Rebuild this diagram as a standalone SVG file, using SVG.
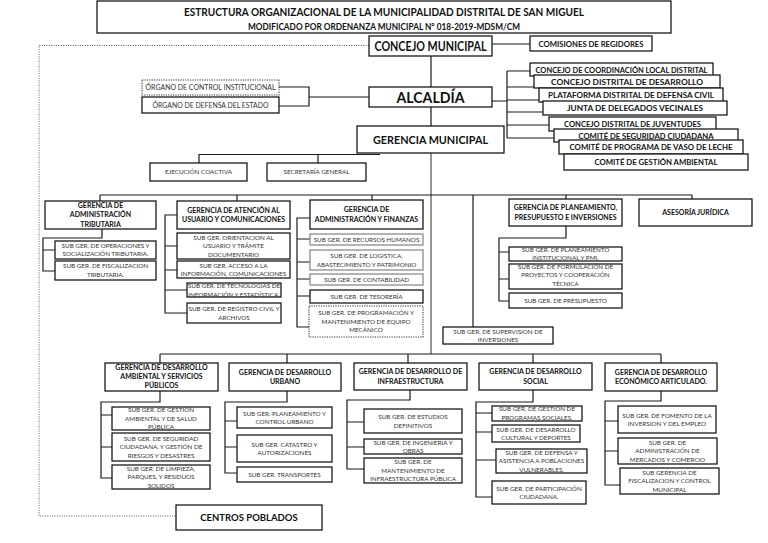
<svg xmlns="http://www.w3.org/2000/svg" width="768" height="543" viewBox="0 0 768 543">
<style>
.b{fill:#fff;stroke:#1a1a1a;stroke-width:1.3}
.bg{fill:#fff;stroke:#8c8c8c;stroke-width:1.3}
.bd{fill:#fff;stroke:#333;stroke-width:1.1;stroke-dasharray:1.2 1.2}
.c{fill:none;stroke:#1a1a1a;stroke-width:1.2}
.cg{fill:none;stroke:#8a8a8a;stroke-width:1.8}
.dot{fill:none;stroke:#555;stroke-width:1;stroke-dasharray:1 1.4}
text{font-family:Lato,"Liberation Sans",sans-serif;text-anchor:middle;fill:#111}
.h{font-weight:bold;font-size:7px}
.s{font-size:6.3px;fill:#333}
.r{font-weight:bold;font-size:7.5px}
</style>
<g id="connectors">
<path class="c" d="M492 44H530M431 56V87M431 107V126"/>
<path class="cg" d="M369 97H309"/>
<path class="c" d="M279 87H309V106H279"/>
<path class="c" d="M492 101H507M507 71V138M507 71H540M507 87H540M507 100H545M507 112H550M507 125H555M507 138H560"/>
<path class="c" d="M199 163V154.5H380M318 154.5V163"/>
<path class="cg" d="M431 153V354"/>
<path class="c" d="M100 195H692M100 195V201M237 195V201M372 195V200M473 195V327M566 195V199M692 195V199"/>
<path class="c" d="M102 229V238H43V271H55M43 250H55"/>
<path class="c" d="M177 215H165V313H187M165 246H177M165 270H177M165 290H187"/>
<path class="c" d="M310 218H297V327H309M297 239H310M297 262H310M297 279H310M297 296H310"/>
<path class="c" d="M566 226V238H499V301H509M499 252H509M499 279H509"/>
<path class="c" d="M160 354H661M160 354V363M287 354V363M408 354V363M533 354V363M661 354V363"/>
<path class="c" d="M160 391V402H101V478H112M101 415H112M101 447H112"/>
<path class="c" d="M287 391V402H225V473H237M225 421H237M225 447H237"/>
<path class="c" d="M410 390V400H347V469H364M347 422H364M347 447H364"/>
<path class="c" d="M533 390V402H476V497H492M476 413H492M476 432H492M476 460H496"/>
<path class="c" d="M661 391V401H605V485H620M605 421H618M605 451H618"/>
<path class="dot" d="M369 45.5H39V516H176"/>
</g>
<g id="title"><rect class="b" x="97" y="1" width="574" height="32"/>
<text x="384" y="16" style="font-weight:bold;font-size:11.5px" textLength="400" lengthAdjust="spacingAndGlyphs">ESTRUCTURA ORGANIZACIONAL DE LA MUNICIPALIDAD DISTRITAL DE SAN MIGUEL</text>
<text x="384" y="30" style="font-weight:bold;font-size:9px" textLength="272" lengthAdjust="spacingAndGlyphs">MODIFICADO POR ORDENANZA MUNICIPAL N° 018-2019-MDSM/CM</text></g>
<g id="concejo"><rect class="b" x="369" y="36" width="123" height="20"/><text x="430.5" y="50.5" style="font-weight:bold;font-size:12.5px" textLength="112" lengthAdjust="spacingAndGlyphs">CONCEJO MUNICIPAL</text></g>
<g id="comisiones"><rect class="b" x="530" y="36" width="122" height="15"/><text class="r" x="591" y="46.5" textLength="105" lengthAdjust="spacingAndGlyphs">COMISIONES DE REGIDORES</text></g>
<g id="alcaldia"><rect class="b" x="369" y="87" width="123" height="20"/><text x="430.5" y="103" style="font-weight:bold;font-size:16px" textLength="68" lengthAdjust="spacingAndGlyphs">ALCALDÍA</text></g>
<g id="gerencia-municipal"><rect class="b" x="357" y="126" width="147" height="27"/><text x="430.5" y="144" style="font-weight:bold;font-size:11.5px" textLength="115" lengthAdjust="spacingAndGlyphs">GERENCIA MUNICIPAL</text></g>
<g id="oci"><rect class="bd" x="142" y="80" width="137" height="15"/><text class="s" x="210.5" y="90" style="font-size:7px" textLength="130" lengthAdjust="spacingAndGlyphs">ÓRGANO DE CONTROL INSTITUCIONAL</text></g>
<g id="ode"><rect class="b" x="142" y="97" width="137" height="16"/><text class="s" x="210.5" y="107.5" style="font-size:7px" textLength="116" lengthAdjust="spacingAndGlyphs">ÓRGANO DE DEFENSA DEL ESTADO</text></g>
<g id="ejecucion"><rect class="b" x="150" y="163" width="97" height="18"/><text class="s" x="198.5" y="174.3">EJECUCIÓN COACTIVA</text></g>
<g id="secretaria"><rect class="b" x="267" y="163" width="99" height="18"/><text class="s" x="316.5" y="174.3">SECRETARÍA GENERAL</text></g>
<g id="ccld"><rect class="b" x="530" y="63" width="183" height="13"/><text class="r" x="621.5" y="72.5" textLength="172" lengthAdjust="spacingAndGlyphs">CONCEJO DE COORDINACIÓN LOCAL DISTRITAL</text></g>
<g id="cdd"><rect class="b" x="534" y="75" width="186" height="13"/><text class="r" x="627" y="84.7" textLength="152" lengthAdjust="spacingAndGlyphs">CONCEJO DISTRITAL DE DESARROLLO</text></g>
<g id="pddc"><rect class="b" x="539" y="88" width="184" height="14"/><text class="r" x="631" y="97.8" textLength="166" lengthAdjust="spacingAndGlyphs">PLATAFORMA DISTRITAL DE DEFENSA CIVIL</text></g>
<g id="jdv"><rect class="b" x="543" y="101" width="184" height="14"/><text class="r" x="635" y="110.8" textLength="136" lengthAdjust="spacingAndGlyphs">JUNTA DE DELEGADOS VECINALES</text></g>
<g id="cdj"><rect class="b" x="549" y="117" width="167" height="14"/><text class="r" x="632.5" y="126.8" textLength="137" lengthAdjust="spacingAndGlyphs">CONCEJO DISTRITAL DE JUVENTUDES</text></g>
<g id="csc"><rect class="b" x="554" y="129" width="184" height="13"/><text class="r" x="646" y="138.6" textLength="135" lengthAdjust="spacingAndGlyphs">COMITÉ DE SEGURIDAD CIUDADANA</text></g>
<g id="cpvl"><rect class="b" x="559" y="140" width="184" height="14"/><text class="r" x="651" y="149.8" textLength="163" lengthAdjust="spacingAndGlyphs">COMITÉ DE PROGRAMA DE VASO DE LECHE</text></g>
<g id="cga"><rect class="b" x="564" y="154" width="184" height="16"/><text class="r" x="656" y="164.8" textLength="123" lengthAdjust="spacingAndGlyphs">COMITÉ DE GESTIÓN AMBIENTAL</text></g>
<g id="g-adm-trib"><rect class="b" x="45" y="201" width="111" height="28"/><text class="h" x="100.5" y="207.8">GERENCIA DE<tspan x="100.5" dy="9.5">ADMINISTRACIÓN</tspan><tspan x="100.5" dy="9.5">TRIBUTARIA</tspan></text></g>
<g id="sg-operaciones"><rect class="b" x="55" y="241" width="101" height="18"/><text class="s" x="105.5" y="247.8">SUB GER. DE OPERACIONES Y<tspan x="105.5" dy="8.5">SOCIALIZACIÓN TRIBUTARIA.</tspan></text></g>
<g id="sg-fiscalizacion-trib"><rect class="b" x="55" y="261" width="101" height="19"/><text class="s" x="105.5" y="268">SUB GER. DE FISCALIZACION<tspan x="105.5" dy="8.5">TRIBUTARIA.</tspan></text></g>
<g id="g-atencion"><rect class="b" x="177" y="201" width="113" height="28"/><text class="h" x="233.5" y="212.7">GERENCIA DE ATENCIÓN AL<tspan x="233.5" dy="9.5">USUARIO Y COMUNICACIONES</tspan></text></g>
<g id="sg-orientacion"><rect class="b" x="177" y="233" width="113" height="26"/><text class="s" x="233.5" y="239.7">SUB GER. ORIENTACION AL<tspan x="233.5" dy="8.5">USUARIO Y TRÁMITE</tspan><tspan x="233.5" dy="8.5">DOCUMENTARIO</tspan></text></g>
<g id="sg-acceso"><rect class="b" x="177" y="261" width="113" height="17"/><text class="s" x="233.5" y="267.5">SUB GER. ACCESO A LA<tspan x="233.5" dy="8.5">INFORMACIÓN, COMUNICACIONES</tspan></text></g>
<g id="sg-tecnologias"><rect class="b" x="187" y="283" width="94" height="14"/><text class="s" x="234" y="288.3">SUB GER. DE TECNOLOGIAS DE<tspan x="234" dy="8.2">INFORMACIÓN Y ESTADÍSTICA.</tspan></text></g>
<g id="sg-registro"><rect class="b" x="187" y="303" width="94" height="20"/><text class="s" x="234" y="311">SUB GER. DE REGISTRO CIVIL Y<tspan x="234" dy="8.5">ARCHIVOS</tspan></text></g>
<g id="g-adm-fin"><rect class="b" x="310" y="200" width="113" height="29"/><text class="h" x="366.5" y="212.2">GERENCIA DE<tspan x="366.5" dy="9.5">ADMINISTRACIÓN Y FINANZAS</tspan></text></g>
<g id="sg-rrhh"><rect class="bg" x="310" y="234" width="113" height="11"/><text class="s" x="366.5" y="241.7">SUB GER. DE RECURSOS HUMANOS</text></g>
<g id="sg-logistica"><rect class="bg" x="310" y="250" width="113" height="20"/><text class="s" x="366.5" y="258">SUB GER. DE LOGISTICA,<tspan x="366.5" dy="8.5">ABASTECIMIENTO Y PATRIMONIO</tspan></text></g>
<g id="sg-contabilidad"><rect class="bg" x="310" y="274" width="113" height="11"/><text class="s" x="366.5" y="281.7">SUB GER. DE CONTABILIDAD</text></g>
<g id="sg-tesoreria"><rect class="b" x="310" y="290" width="113" height="13"/><text class="s" x="366.5" y="298.7">SUB GER. DE TESORERÍA</text></g>
<g id="sg-programacion"><rect class="bd" x="309" y="306" width="114" height="31"/><text class="s" x="366" y="315.2">SUB GER. DE PROGRAMACIÓN Y<tspan x="366" dy="8.5">MANTENIMIENTO DE EQUIPO</tspan><tspan x="366" dy="8.5">MECÁNICO</tspan></text></g>
<g id="g-planeamiento"><rect class="b" x="509" y="199" width="113" height="27"/><text class="h" x="565.5" y="210.2">GERENCIA DE PLANEAMIENTO,<tspan x="565.5" dy="9.5">PRESUPUESTO E INVERSIONES</tspan></text></g>
<g id="sg-planeamiento"><rect class="b" x="509" y="247" width="113" height="14"/><text class="s" x="565.5" y="251.5">SUB GER. DE PLANEAMIENTO<tspan x="565.5" dy="8.3">INSTITUCIONAL Y PMI.</tspan></text></g>
<g id="sg-formulacion"><rect class="b" x="509" y="264" width="113" height="25"/><text class="s" x="565.5" y="268.5">SUB GER. DE FORMULACIÓN DE<tspan x="565.5" dy="8.5">PROYECTOS Y COOPERACIÓN</tspan><tspan x="565.5" dy="8.5">TÉCNICA</tspan></text></g>
<g id="sg-presupuesto"><rect class="b" x="509" y="293" width="113" height="15"/><text class="s" x="565.5" y="302.7">SUB GER. DE PRESUPUESTO</text></g>
<g id="asesoria"><rect class="b" x="639" y="199" width="113" height="27"/><text class="h" x="695.5" y="215.3">ASESORÍA JURÍDICA</text></g>
<g id="sg-supervision"><rect class="b" x="443" y="327" width="110" height="17"/><text class="s" x="498" y="333.5">SUB GER. DE SUPERVISION DE<tspan x="498" dy="8.5">INVERSIONES</tspan></text></g>
<g id="g-ambiental"><rect class="b" x="105" y="363" width="113" height="28"/><text class="h" x="161.5" y="369.8">GERENCIA DE DESARROLLO<tspan x="161.5" dy="9.3">AMBIENTAL Y SERVICIOS</tspan><tspan x="161.5" dy="9.3">PÚBLICOS</tspan></text></g>
<g id="sg-gestion-ambiental"><rect class="b" x="112" y="407" width="98" height="23"/><text class="s" x="161" y="412.2">SUB GER. DE GESTIÓN<tspan x="161" dy="8.5">AMBIENTAL Y DE SALUD</tspan><tspan x="161" dy="8.5">PÚBLICA</tspan></text></g>
<g id="sg-seguridad"><rect class="b" x="112" y="433" width="98" height="28"/><text class="s" x="161" y="440.7">SUB GER. DE SEGURIDAD<tspan x="161" dy="8.5">CIUDADANA, Y GESTIÓN DE</tspan><tspan x="161" dy="8.5">RIESGOS Y DESASTRES</tspan></text></g>
<g id="sg-limpieza"><rect class="b" x="112" y="465" width="98" height="24"/><text class="s" x="161" y="470.7">SUB GER. DE LIMPIEZA,<tspan x="161" dy="8.5">PARQUES, Y RESIDUOS</tspan><tspan x="161" dy="8.5">SOLIDOS</tspan></text></g>
<g id="g-urbano"><rect class="b" x="229" y="363" width="112" height="28"/><text class="h" x="285" y="374.7">GERENCIA DE DESARROLLO<tspan x="285" dy="9.5">URBANO</tspan></text></g>
<g id="sg-planeamiento-urbano"><rect class="b" x="237" y="407" width="95" height="21"/><text class="s" x="284.5" y="415.5">SUB GER. PLANEAMIENTO Y<tspan x="284.5" dy="8.5">CONTROL URBANO</tspan></text></g>
<g id="sg-catastro"><rect class="b" x="237" y="435" width="95" height="27"/><text class="s" x="284.5" y="446.5">SUB GER. CATASTRO Y<tspan x="284.5" dy="8.5">AUTORIZACIONES</tspan></text></g>
<g id="sg-transportes"><rect class="b" x="237" y="467" width="95" height="15"/><text class="s" x="284.5" y="476.7">SUB GER. TRANSPORTES</text></g>
<g id="g-infraestructura"><rect class="b" x="354" y="363" width="113" height="27"/><text class="h" x="410.5" y="374.2">GERENCIA DE DESARROLLO DE<tspan x="410.5" dy="9.5">INFRAESTRUCTURA</tspan></text></g>
<g id="sg-estudios"><rect class="b" x="364" y="409" width="98" height="24"/><text class="s" x="413" y="419">SUB GER. DE ESTUDIOS<tspan x="413" dy="8.5">DEFINITIVOS</tspan></text></g>
<g id="sg-ingenieria"><rect class="b" x="364" y="439" width="98" height="15"/><text class="s" x="413" y="444.8">SUB GER. DE INGENIERIA Y<tspan x="413" dy="8.6">OBRAS</tspan></text></g>
<g id="sg-mantenimiento"><rect class="b" x="364" y="458" width="98" height="25"/><text class="s" x="413" y="464.2">SUB GER. DE<tspan x="413" dy="8.5">MANTENIMIENTO DE</tspan><tspan x="413" dy="8.5">INFRAESTRUCTURA PÚBLICA</tspan></text></g>
<g id="g-social"><rect class="b" x="479" y="363" width="113" height="27"/><text class="h" x="535.5" y="374.2">GERENCIA DE DESARROLLO<tspan x="535.5" dy="9.5">SOCIAL</tspan></text></g>
<g id="sg-programas"><rect class="b" x="492" y="406" width="90" height="15"/><text class="s" x="537" y="410.8">SUB GER. DE GESTIÓN DE<tspan x="537" dy="8.8">PROGRAMAS SOCIALES.</tspan></text></g>
<g id="sg-cultural"><rect class="b" x="492" y="425" width="88" height="17"/><text class="s" x="536" y="431.5">SUB GER. DE DESARROLLO<tspan x="536" dy="8.5">CULTURAL Y DEPORTES</tspan></text></g>
<g id="sg-defensa"><rect class="b" x="496" y="449" width="91" height="24"/><text class="s" x="541.5" y="454.7">SUB GER. DE DEFENSA Y<tspan x="541.5" dy="8.5">ASISTENCIA A POBLACIONES</tspan><tspan x="541.5" dy="8.5">VULNERABLES.</tspan></text></g>
<g id="sg-participacion"><rect class="b" x="492" y="481" width="94" height="23"/><text class="s" x="539" y="490.5">SUB GER. DE PARTICIPACIÓN<tspan x="539" dy="8.5">CIUDADANA.</tspan></text></g>
<g id="g-economico"><rect class="b" x="605" y="363" width="112" height="28"/><text class="h" x="661" y="374.7">GERENCIA DE DESARROLLO<tspan x="661" dy="9.5">ECONÓMICO ARTICULADO.</tspan></text></g>
<g id="sg-fomento"><rect class="b" x="618" y="406" width="98" height="27"/><text class="s" x="667" y="417.5">SUB GER. DE FOMENTO DE LA<tspan x="667" dy="8.5">INVERSION Y DEL EMPLEO</tspan></text></g>
<g id="sg-mercados"><rect class="b" x="618" y="438" width="99" height="26"/><text class="s" x="667.5" y="444.7">SUB GER. DE<tspan x="667.5" dy="8.5">ADMINISTRACIÓN DE</tspan><tspan x="667.5" dy="8.5">MERCADOS Y COMERCIO</tspan></text></g>
<g id="sg-fiscalizacion-control"><rect class="b" x="620" y="468" width="99" height="26"/><text class="s" x="669.5" y="474.7">SUB GERENCIA DE<tspan x="669.5" dy="8.5">FISCALIZACION Y CONTROL</tspan><tspan x="669.5" dy="8.5">MUNICIPAL</tspan></text></g>
<g id="centros-poblados"><rect class="b" x="176" y="505" width="146" height="25"/><text x="249" y="521" style="font-weight:bold;font-size:9.5px">CENTROS POBLADOS</text></g>
</svg>
